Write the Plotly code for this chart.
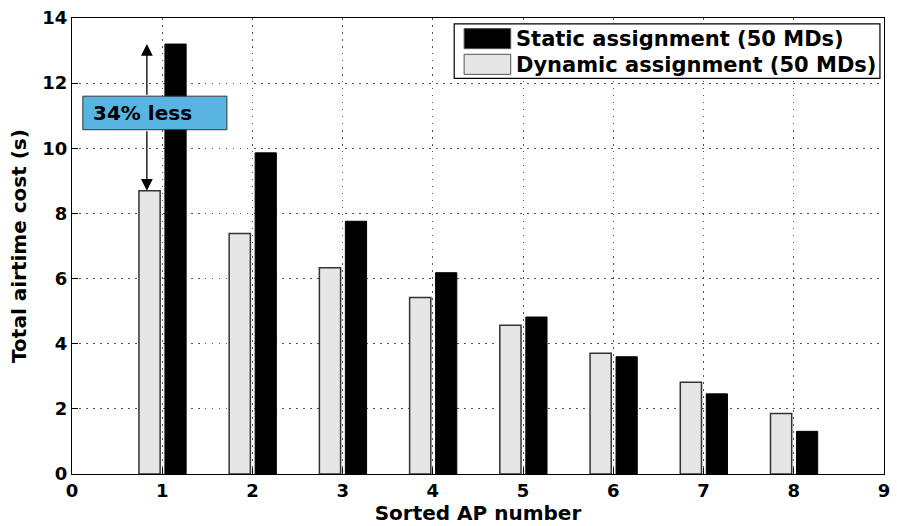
import plotly.graph_objects as go

ap_numbers = [1, 2, 3, 4, 5, 6, 7, 8]
static_cost = [13.2, 9.86, 7.76, 6.18, 4.82, 3.60, 2.46, 1.31]
dynamic_cost = [8.7, 7.38, 6.33, 5.42, 4.57, 3.71, 2.82, 1.86]
x_ticks = list(range(0, 10))
y_ticks = list(range(0, 15, 2))
static_name = "Static assignment (50 MDs)"
dynamic_name = "Dynamic assignment (50 MDs)"
note_text = "34% less"

FONT = "DejaVu Sans"

fig = go.Figure()
fig.add_trace(go.Bar(
    x=ap_numbers, y=dynamic_cost, name=dynamic_name,
    width=0.235, offset=-0.258,
    marker=dict(color="#E6E6E6", line=dict(color="#333333", width=1.5)),
    showlegend=False,
))
fig.add_trace(go.Bar(
    x=ap_numbers, y=static_cost, name=static_name,
    width=0.235, offset=0.03,
    marker=dict(color="black", line=dict(color="black", width=1)),
    showlegend=False,
))

axis_common = dict(
    showline=True, mirror=True, linecolor="black", linewidth=1.2,
    ticks="inside", ticklen=6, tickcolor="black",
    showgrid=True, gridcolor="#555555", griddash="1.5px,5.5px", gridwidth=1.2,
    zeroline=False,
    tickfont=dict(family=FONT, size=18, color="black", weight="bold"),
)

fig.update_layout(
    width=897, height=526,
    margin=dict(l=72, r=7, t=15, b=50),
    plot_bgcolor="white", paper_bgcolor="white",
    barmode="overlay",
    xaxis=dict(range=[0, 9], tickvals=x_ticks, ticktext=[str(t) for t in x_ticks],
               title=dict(text="Sorted AP number", standoff=4,
                          font=dict(family=FONT, size=20, color="black", weight="bold")),
               **axis_common),
    yaxis=dict(range=[0, 14], tickvals=y_ticks, ticktext=[str(t) for t in y_ticks],
               title=dict(text="Total airtime cost (s)", standoff=10,
                          font=dict(family=FONT, size=20, color="black", weight="bold")),
               **axis_common),
)

# Annotation box "34% less"
fig.add_shape(type="rect", xref="x", yref="y", x0=0.12, x1=1.717, y0=10.57, y1=11.6,
              fillcolor="#58B4E0", line=dict(color="#333333", width=1), layer="above")
fig.add_annotation(x=0.78, y=11.08, xref="x", yref="y", text=f"<b>{note_text}</b>",
                   showarrow=False, font=dict(family=FONT, size=20, color="black"))
# double arrow split around the box
arrow_x = 0.83
fig.add_annotation(x=arrow_x, y=static_cost[0], ax=arrow_x, ay=11.6, xref="x", yref="y",
                   axref="x", ayref="y", text="", showarrow=True, arrowhead=2,
                   arrowsize=1.8, arrowwidth=1.3, arrowcolor="black", standoff=0)
fig.add_annotation(x=arrow_x, y=dynamic_cost[0], ax=arrow_x, ay=10.57, xref="x", yref="y",
                   axref="x", ayref="y", text="", showarrow=True, arrowhead=2,
                   arrowsize=1.8, arrowwidth=1.3, arrowcolor="black", standoff=0)

# Custom legend (paper coordinates)
fig.add_shape(type="rect", xref="paper", yref="paper", x0=0.4707, x1=0.995, y0=0.8677, y1=0.987,
              fillcolor="white", line=dict(color="black", width=1.2), layer="above")
fig.add_shape(type="rect", xref="paper", yref="paper", x0=0.4829, x1=0.5403, y0=0.9328, y1=0.9768,
              fillcolor="black", line=dict(color="#555555", width=1), layer="above")
fig.add_shape(type="rect", xref="paper", yref="paper", x0=0.4829, x1=0.5403, y0=0.8764, y1=0.9204,
              fillcolor="#E6E6E6", line=dict(color="#555555", width=1), layer="above")
fig.add_annotation(x=0.544, y=0.953, xref="paper", yref="paper", text=f"<b>{static_name}</b>",
                   showarrow=False, xanchor="left", yanchor="middle",
                   font=dict(family=FONT, size=21, color="black"))
fig.add_annotation(x=0.544, y=0.8965, xref="paper", yref="paper", text=f"<b>{dynamic_name}</b>",
                   showarrow=False, xanchor="left", yanchor="middle",
                   font=dict(family=FONT, size=21, color="black"))

fig.write_html("out.html")
